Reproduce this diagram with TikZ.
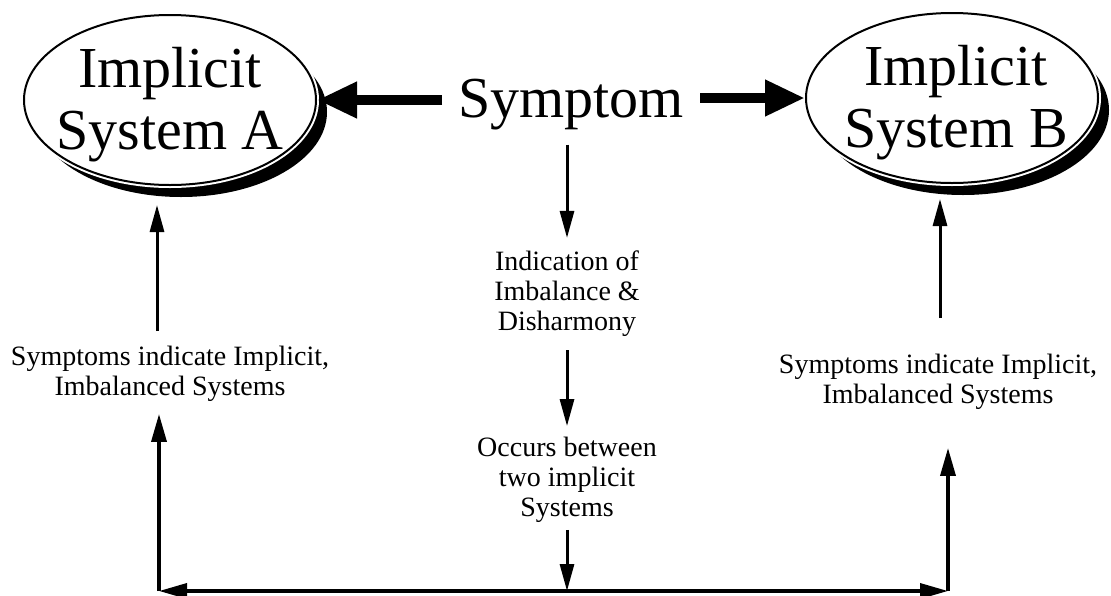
\documentclass[tikz,border=0pt]{standalone}
\usepackage{fontspec}
\setmainfont{Liberation Serif}
\usetikzlibrary{arrows.meta,shapes.geometric,shadows}
\begin{document}
\begin{tikzpicture}[x=1pt,y=-1pt,
  sysbox/.style={ellipse, minimum width=292pt, minimum height=170pt, inner sep=0pt,
    drop shadow={shadow xshift=11pt, shadow yshift=-12pt, fill=black, opacity=1},
    preaction={draw=white, line width=6pt},
    fill=white, draw=black, line width=2pt},
  bigtext/.style={font=\fontsize{58}{62}\selectfont, align=center, inner sep=0pt},
  symtext/.style={font=\fontsize{58}{62}\selectfont, inner xsep=16pt, inner ysep=0pt},
  smalltext/.style={font=\fontsize{28}{30}\selectfont, align=center, inner sep=0pt},
  heavyarrow/.style={line width=10pt, -{Triangle[length=40pt,width=34pt]}},
  thinarrow/.style={line width=3pt, -{Triangle[length=27pt,width=14pt]}},
  framearrow/.style={line width=3.5pt, -{Triangle[length=28pt,width=15pt]}},
  frameline/.style={line width=3.5pt, {Triangle[length=28pt,width=15pt]}-{Triangle[length=28pt,width=15pt]}},
]
\useasboundingbox (0,0) rectangle (1111,595);

% corners and midpoint of the bottom rail
\coordinate (cl) at (159,591);
\coordinate (cr) at (948,591);
\coordinate (cm) at (567,591);

% the two systems
\node[sysbox] (ea) at (170,100) {};
\node[sysbox] (eb) at (952,98) {};
\node[bigtext] (ta) at (170,105) {Implicit\\System A};
\node[bigtext] (tb) at (956,103) {Implicit\\System B};

% central symptom and its explanations
\node[symtext, anchor=base] (sym) at (571,117) {Symptom};
\node[smalltext] (t1) at (567,294) {Indication of\\Imbalance \&\\Disharmony};
\node[smalltext] (t2) at (567,480) {Occurs between\\two implicit\\Systems};

% side labels
\node[smalltext] (la) at (170,374) {Symptoms indicate Implicit,\\Imbalanced Systems};
\node[smalltext] (lb) at (938,382) {Symptoms indicate Implicit,\\Imbalanced Systems};

% heavy arrows from the symptom to both systems
\draw[heavyarrow] (sym.west |- ea.east) -- (ea.east);
\draw[heavyarrow] (sym.east |- eb.west) -- (eb.west);

% central chain
\draw[thinarrow, shorten <=15pt, shorten >=13pt] (t1.north |- sym.south) -- (t1.north);
\draw[thinarrow, shorten <=13pt, shorten >=11pt] (t1.south) -- (t2.north);
\draw[thinarrow, shorten <=7pt] (t2.south) -- (cm);

% labels pointing up to the systems
\draw[thinarrow, shorten <=15pt, shorten >=19pt] ([xshift=-13pt]la.north) -- ([xshift=-13pt]ea.south);
\draw[thinarrow, shorten <=36pt, shorten >=15pt] ([xshift=2pt]lb.north) -- ([xshift=-12pt]eb.south);

% bottom rail
\draw[framearrow, shorten >=12pt] (cl) -- (cl |- la.south);
\draw[framearrow, shorten >=38pt] (cr) -- (cr |- lb.south);
\draw[frameline] (cl) -- (cr);
\end{tikzpicture}
\end{document}
